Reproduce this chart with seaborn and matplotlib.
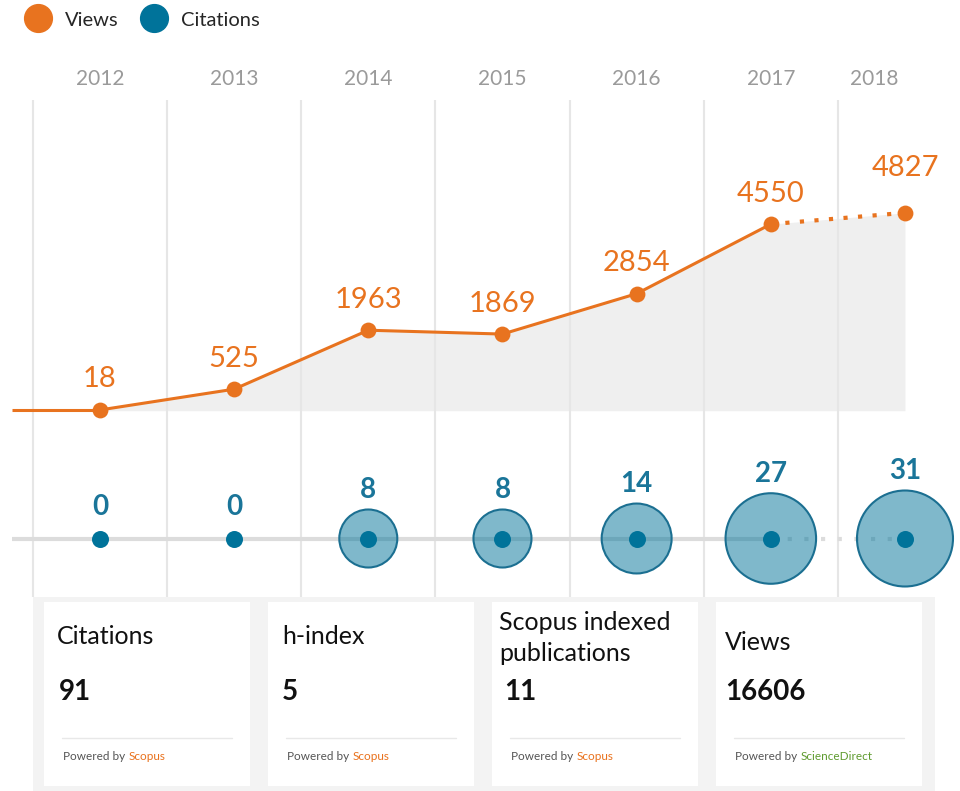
import numpy as np
import matplotlib.pyplot as plt
from matplotlib.patches import Rectangle
from matplotlib.lines import Line2D
import seaborn as sns

# data
years = [2012, 2013, 2014, 2015, 2016, 2017, 2018]
views = [18, 525, 1963, 1869, 2854, 4550, 4827]
citations = [0, 0, 8, 8, 14, 27, 31]

card_titles = ["Citations", "h-index", "Scopus indexed\npublications", "Views"]
card_values = ["91", "5", "11", "16606"]
card_sources = ["Scopus", "Scopus", "Scopus", "ScienceDirect"]
source_colors = {"Scopus": "#e9711c", "ScienceDirect": "#5f9b2f"}

ORANGE = "#e8731f"
TEAL = "#00739a"
TEAL_TXT = "#1a7599"
GRID = "#e6e6e6"

sns.set_theme(style="white")
plt.rcParams['font.family'] = ['Lato', 'DejaVu Sans']

W, H = 960, 791
fig = plt.figure(figsize=(9.6, 7.91), dpi=100)


def fy(py):
    # figure fraction from a pixel row counted from the top
    return 1 - py / H


xlim = (2011.255, 2018.41)

# ---- views (top part) ----
ax = fig.add_axes([0, fy(597), 1, (597 - 100) / H])
ax.set_xlim(*xlim)
ax.set_ylim(-4544, 7578)
ax.axis('off')

for g in np.array(years) - 0.5:
    ax.axvline(g, color=GRID, lw=1.5, zorder=1)

ax.fill_between(years, 0, views, color="#efefef", lw=0, zorder=0.5)
ax.hlines(views[0], xlim[0] + 0.09, years[0], color=ORANGE, lw=2.2, zorder=2)
sns.lineplot(x=years[:-1], y=views[:-1], color=ORANGE, lw=2.2, ax=ax, zorder=2)
sns.lineplot(x=years[-2:], y=views[-2:], color=ORANGE, lw=3, ax=ax, zorder=2,
             linestyle=(0, (1, 2.5)))
ax.scatter(years, views, s=130, color=ORANGE, zorder=4, lw=0)

for i, (yr, v) in enumerate(zip(years, views)):
    off = 32 if i == len(years) - 1 else 22
    ax.annotate(f"{v}", (yr, v), xytext=(0, off), textcoords='offset points',
                ha='center', va='center', color=ORANGE, fontsize=21)

# year labels above the grid
for i, yr in enumerate(years):
    dx = -22 if i == len(years) - 1 else 0
    ax.annotate(str(yr), (yr, 1), xycoords=('data', 'axes fraction'),
                xytext=(dx, 15), textcoords='offset points',
                ha='center', va='center', color="#9a9a9a", fontsize=15)

# ---- citations row ----
axc = fig.add_axes([0, fy(597), 1, (597 - 480) / H])
axc.set_xlim(*xlim)
axc.set_ylim(-1, 1)
axc.axis('off')

axc.hlines(0, xlim[0] + 0.09, years[-2], color="#dcdcdc", lw=3, zorder=1)
axc.plot(years[-2:], [0, 0], color="#dcdcdc", lw=3, linestyle=(0, (1, 3)), zorder=1)

cit = np.array(citations)
yrs = np.array(years)
mask = cit > 0
sns.scatterplot(x=yrs[mask], y=np.zeros(mask.sum()), size=cit[mask],
                sizes=(1744, 4777), size_norm=(8, 31), legend=False,
                color=TEAL, edgecolor="#1b6f91", linewidth=1.5, ax=axc, zorder=3)
bubbles = axc.collections[-1]
bubbles.set_facecolor((0.0, 0.45, 0.6, 0.5))
bubble_sizes = bubbles.get_sizes()

axc.scatter(years, np.zeros(len(years)), s=150, color=TEAL, zorder=4, lw=0)

k = 0
for yr, c in zip(years, citations):
    if c > 0:
        r = np.sqrt(bubble_sizes[k]) / 2
        k += 1
    else:
        r = 8.5
    axc.annotate(f"{c}", (yr, 0), xytext=(0, r + 14), textcoords='offset points',
                 ha='center', va='center', color=TEAL_TXT, fontsize=20,
                 fontweight='bold')

# ---- legend ----
handles = [Line2D([], [], marker='o', ls='', markersize=20, color=ORANGE),
           Line2D([], [], marker='o', ls='', markersize=20, color=TEAL)]
fig.legend(handles, ["Views", "Citations"], loc='center left',
           bbox_to_anchor=(0.029, fy(20)), ncol=2, frameon=False,
           handlelength=1.0, handletextpad=0.85, columnspacing=1.25,
           fontsize=14.5, borderaxespad=0, borderpad=0)

# ---- cards ----
fig.add_artist(Rectangle((33 / W, fy(791)), (935 - 33) / W, (791 - 597) / H,
                         transform=fig.transFigure, facecolor="#f3f3f3", lw=0))
card_left = [44, 268, 492, 716]
title_dx = [13, 14, 7, 9]
title_y = [636, 636, 638, 642]
value_dx = [15, 14, 12, 9]
for i, x0 in enumerate(card_left):
    fig.add_artist(Rectangle((x0 / W, fy(786)), 206 / W, (786 - 602) / H,
                             transform=fig.transFigure, facecolor="white", lw=0))
    fig.text((x0 + title_dx[i]) / W, fy(title_y[i]), card_titles[i],
             ha='left', va='center', fontsize=18, color="#111111", linespacing=1.4)
    fig.text((x0 + value_dx[i]) / W, fy(692), card_values[i],
             ha='left', va='center', fontsize=20, fontweight='bold', color="#111111")
    fig.add_artist(Line2D([(x0 + 18) / W, (x0 + 188) / W], [fy(738), fy(738)],
                          transform=fig.transFigure, color="#e8e8e8", lw=1))
    t = fig.text((x0 + 19) / W, fy(757), "Powered by ", ha='left', va='center',
                 fontsize=8.5, color="#555555")
    fig.add_artist(plt.Annotation(card_sources[i], xy=(1, 0.5), xycoords=t,
                                  ha='left', va='center', fontsize=8.5,
                                  color=source_colors[card_sources[i]]))

fig.savefig("out.png", dpi=100)
